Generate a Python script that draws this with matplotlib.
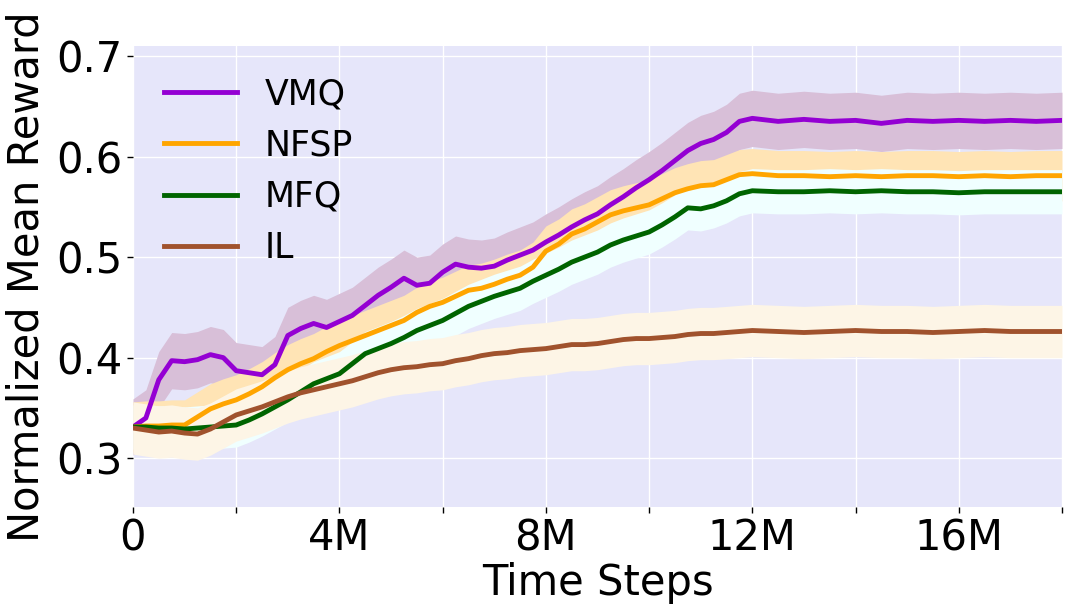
#!/usr/bin/env python3
"""Normalized mean reward of VMQ / NFSP / MFQ / IL over training time steps."""
import matplotlib

matplotlib.use("Agg")
import matplotlib.pyplot as plt
import matplotlib.ticker
import numpy as np

# time steps in millions
steps_m = [
    0, 0.25, 0.5, 0.75, 1, 1.25, 1.5, 1.75, 2, 2.25, 2.5, 2.75, 3, 3.25, 3.5, 3.75,
    4, 4.25, 4.5, 4.75, 5, 5.25, 5.5, 5.75, 6, 6.25, 6.5, 6.75, 7, 7.25, 7.5, 7.75,
    8, 8.25, 8.5, 8.75, 9, 9.25, 9.5, 9.75, 10, 10.25, 10.5, 10.75, 11, 11.25, 11.5,
    11.75, 12, 12.5, 13, 13.5, 14, 14.5, 15, 15.5, 16, 16.5, 17, 17.5, 18,
]

vmq = [
    0.331, 0.340, 0.378, 0.397, 0.396, 0.398, 0.403, 0.400, 0.387, 0.385, 0.383, 0.393,
    0.422, 0.429, 0.434, 0.430, 0.436, 0.442, 0.452, 0.462, 0.470, 0.479, 0.472, 0.474,
    0.485, 0.493, 0.490, 0.489, 0.491, 0.497, 0.502, 0.507, 0.515, 0.522, 0.530, 0.537,
    0.543, 0.552, 0.560, 0.569, 0.577, 0.586, 0.596, 0.606, 0.613, 0.617, 0.624, 0.635,
    0.638, 0.635, 0.637, 0.635, 0.636, 0.633, 0.636, 0.635, 0.636, 0.635, 0.636, 0.635,
    0.636,
]
nfsp = [
    0.331, 0.332, 0.332, 0.333, 0.333, 0.341, 0.349, 0.354, 0.358, 0.364, 0.371, 0.380,
    0.388, 0.394, 0.399, 0.406, 0.412, 0.417, 0.422, 0.427, 0.432, 0.437, 0.445, 0.451,
    0.455, 0.461, 0.467, 0.469, 0.473, 0.478, 0.482, 0.490, 0.506, 0.513, 0.523, 0.528,
    0.535, 0.542, 0.546, 0.549, 0.552, 0.558, 0.564, 0.568, 0.571, 0.572, 0.577, 0.582,
    0.583, 0.581, 0.581, 0.580, 0.581, 0.580, 0.581, 0.581, 0.580, 0.581, 0.580, 0.581,
    0.581,
]
mfq = [
    0.331, 0.331, 0.330, 0.330, 0.329, 0.330, 0.331, 0.332, 0.333, 0.338, 0.344, 0.351,
    0.358, 0.366, 0.374, 0.379, 0.384, 0.394, 0.404, 0.409, 0.414, 0.420, 0.427, 0.432,
    0.437, 0.444, 0.451, 0.456, 0.461, 0.465, 0.469, 0.476, 0.482, 0.488, 0.495, 0.500,
    0.505, 0.512, 0.517, 0.521, 0.525, 0.532, 0.540, 0.549, 0.548, 0.551, 0.556, 0.563,
    0.566, 0.565, 0.565, 0.566, 0.565, 0.566, 0.565, 0.565, 0.564, 0.565, 0.565, 0.565,
    0.565,
]
il = [
    0.330, 0.328, 0.326, 0.327, 0.325, 0.324, 0.329, 0.336, 0.343, 0.347, 0.351, 0.356,
    0.361, 0.365, 0.368, 0.371, 0.374, 0.377, 0.381, 0.385, 0.388, 0.390, 0.391, 0.393,
    0.394, 0.397, 0.399, 0.402, 0.404, 0.405, 0.407, 0.408, 0.409, 0.411, 0.413, 0.413,
    0.414, 0.416, 0.418, 0.419, 0.419, 0.420, 0.421, 0.423, 0.424, 0.424, 0.425, 0.426,
    0.427, 0.426, 0.425, 0.426, 0.427, 0.426, 0.426, 0.425, 0.426, 0.427, 0.426, 0.426,
    0.426,
]

labels = ["VMQ", "NFSP", "MFQ", "IL"]
# half width of the shaded band around each curve
spreads = [0.028, 0.025, 0.022, 0.026]

line_colors = ["darkviolet", "orange", "darkgreen", "sienna"]
band_colors = ["thistle", "moccasin", "azure", "oldlace"]

xtick_steps = [0, 2, 4, 6, 8, 10, 12, 14, 16, 18]


def millions(x, pos):
    if x == 0:
        return "0"
    if int(round(x)) % 4 != 0:
        return ""
    return "%dM" % int(round(x))


def main():
    fig, ax = plt.subplots(figsize=(10.75, 6.13), dpi=100)
    fig.subplots_adjust(left=0.1237, right=0.9879, top=0.925, bottom=0.173)
    ax.set_facecolor("lavender")
    for spine in ax.spines.values():
        spine.set_visible(False)

    x = np.array(steps_m)
    for values, spread, band_color in zip([vmq, nfsp, mfq, il], spreads, band_colors):
        y = np.array(values)
        ax.fill_between(x, y - spread, y + spread, color=band_color, lw=0, zorder=1)

    for values, label, color in zip([vmq, nfsp, mfq, il], labels, line_colors):
        ax.plot(x, values, color=color, lw=3.5, label=label, zorder=3)

    ax.set_xlim(0, 18)
    ax.set_ylim(0.2515, 0.71)
    ax.set_xticks(xtick_steps)
    ax.xaxis.set_major_formatter(matplotlib.ticker.FuncFormatter(millions))
    ax.set_yticks([0.3, 0.4, 0.5, 0.6, 0.7])
    ax.yaxis.set_major_formatter(matplotlib.ticker.FormatStrFormatter("%.1f"))
    ax.tick_params(labelsize=30, length=4, width=1)
    ax.grid(True, color="white", lw=1, zorder=0)
    ax.set_axisbelow(True)

    ax.set_xlabel("Time Steps", fontsize=30, labelpad=2)
    ax.set_ylabel("Normalized Mean Reward", fontsize=30, labelpad=6)
    ax.legend(loc="upper left", fontsize=25, frameon=False, handlelength=2.1)

    fig.savefig("out.png", dpi=100)


if __name__ == "__main__":
    main()
